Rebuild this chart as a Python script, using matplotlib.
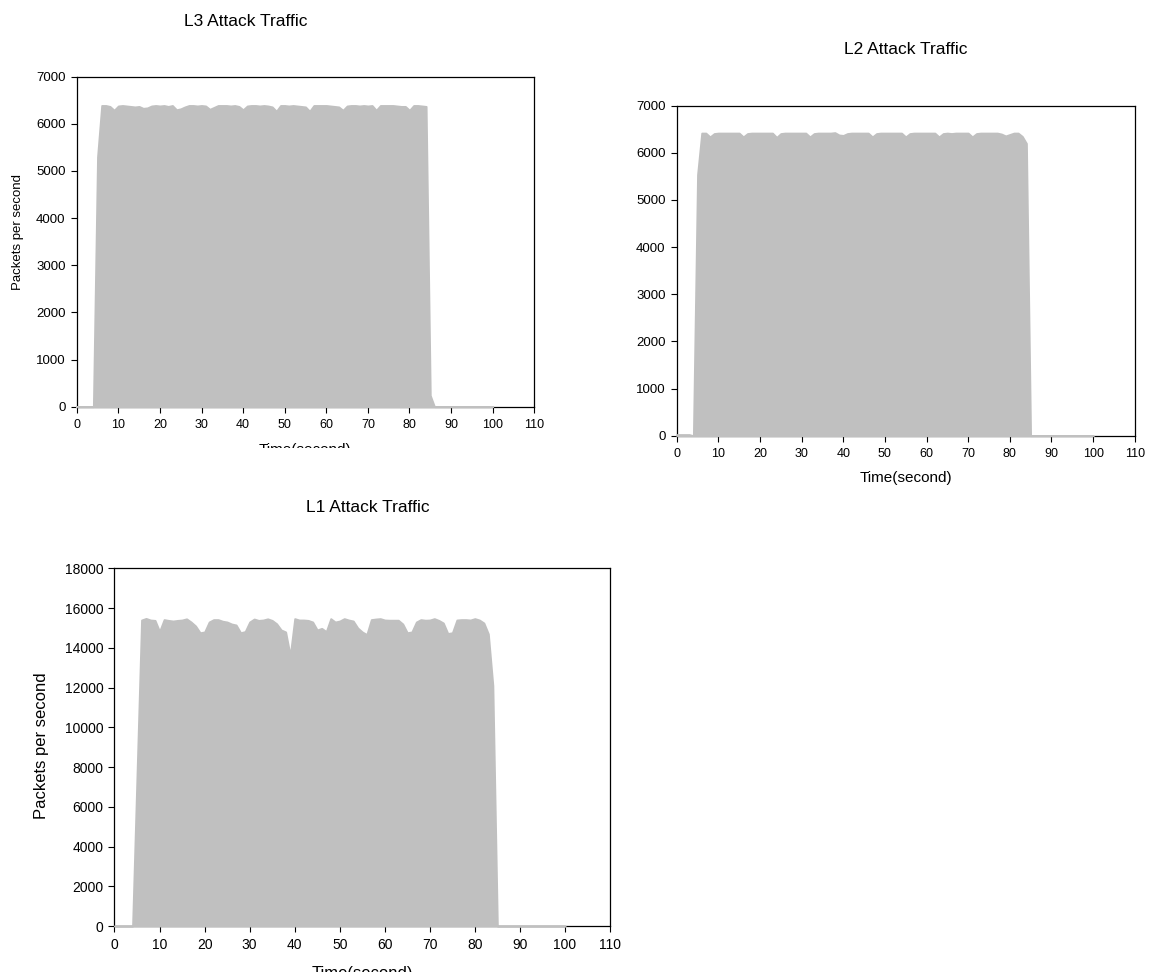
import matplotlib
matplotlib.use("Agg")
import matplotlib.pyplot as plt
from matplotlib.transforms import Bbox, TransformedBbox

plt.rcParams['font.family'] = ['Liberation Sans', 'DejaVu Sans']

W, H = 1149, 972

# ---- data (time in seconds, packets per second) ----
time_s = list(range(0, 101))

l3_pps = [0, 0, 0, 0, 0, 5300, 6390, 6390, 6370, 6290,
          6380, 6390, 6380, 6370, 6360, 6370, 6330, 6340, 6380, 6390,
          6380, 6390, 6370, 6390, 6300, 6320, 6360, 6390, 6390, 6380,
          6390, 6380, 6310, 6350, 6390, 6390, 6390, 6380, 6390, 6370,
          6300, 6380, 6390, 6390, 6380, 6390, 6380, 6360, 6270, 6390,
          6390, 6380, 6390, 6380, 6370, 6360, 6270, 6390, 6390, 6390,
          6390, 6380, 6370, 6360, 6290, 6380, 6390, 6390, 6380, 6390,
          6380, 6390, 6290, 6390, 6390, 6390, 6390, 6380, 6370, 6370,
          6290, 6390, 6390, 6380, 6370, 240, 0, 0, 0, 0,
          0, 0, 0, 0, 0, 0, 0, 0, 0, 0,
          0]

l2_pps = [25, 25, 25, 25, 0, 5540, 6420, 6420, 6340, 6410,
          6420, 6420, 6420, 6420, 6420, 6420, 6340, 6410, 6420, 6420,
          6420, 6420, 6420, 6420, 6330, 6410, 6420, 6420, 6420, 6420,
          6420, 6420, 6340, 6410, 6420, 6420, 6420, 6420, 6430, 6380,
          6370, 6410, 6420, 6420, 6420, 6420, 6420, 6340, 6410, 6420,
          6420, 6420, 6420, 6420, 6420, 6340, 6410, 6420, 6420, 6420,
          6420, 6420, 6420, 6340, 6410, 6420, 6410, 6420, 6420, 6420,
          6420, 6340, 6410, 6420, 6420, 6420, 6420, 6420, 6400, 6360,
          6390, 6420, 6420, 6350, 6200, 0, 0, 0, 0, 0,
          0, 0, 0, 0, 0, 0, 0, 0, 0, 0,
          0]

l1_pps = [0, 0, 0, 0, 0, 7700, 15400, 15480, 15400, 15380,
          14830, 15420, 15380, 15350, 15380, 15400, 15460, 15300, 15100, 14760,
          14800, 15300, 15420, 15420, 15340, 15300, 15200, 15150, 14760, 14820,
          15300, 15450, 15380, 15400, 15460, 15380, 15210, 14900, 14800, 13620,
          15470, 15400, 15400, 15380, 15300, 14900, 14980, 14820, 15470, 15300,
          15350, 15470, 15400, 15350, 15000, 14800, 14670, 15420, 15450, 15470,
          15400, 15390, 15390, 15390, 15200, 14760, 14800, 15300, 15420, 15390,
          15400, 15470, 15380, 15250, 14720, 14760, 15400, 15420, 15420, 15400,
          15470, 15400, 15250, 14700, 12100, 0, 0, 0, 0, 0,
          0, 0, 0, 0, 0, 0, 0, 0, 0, 0,
          0]

x_ticks = list(range(0, 111, 10))
small_y_ticks = list(range(0, 7001, 1000))
big_y_ticks = list(range(0, 18001, 2000))

titles = ["L3 Attack Traffic", "L2 Attack Traffic", "L1 Attack Traffic"]
ylabel_text = "Packets per second"
xlabel_text = "Time(second)"

fill_color = '#c0c0c0'

fig = plt.figure(figsize=(W / 100, H / 100), dpi=100)


def px_axes(left, top, right, bottom):
    return fig.add_axes([left / W, (H - bottom) / H, (right - left) / W, (bottom - top) / H])


def style(ax, yticks, ymax, xfs, yfs):
    ax.set_xlim(0, 110)
    ax.set_ylim(0, ymax)
    ax.set_xticks(x_ticks)
    ax.set_yticks(yticks)
    ax.tick_params(direction='out', length=4, width=0.8, colors='black')
    ax.tick_params(axis='x', labelsize=xfs, pad=4.5)
    ax.tick_params(axis='y', labelsize=yfs, pad=4)
    for s in ax.spines.values():
        s.set_linewidth(0.9)
        s.set_color('black')


def draw(ax, y):
    ax.fill_between(time_s, y, 0, facecolor=fill_color, edgecolor=fill_color,
                    linewidth=1.3, zorder=3, clip_on=False)


# L3
ax3 = px_axes(76.7, 76.7, 534.3, 406.7)
draw(ax3, l3_pps)
style(ax3, small_y_ticks, 7000, 9, 9.5)

# L2
ax2 = px_axes(676.7, 105.7, 1134.7, 435.7)
draw(ax2, l2_pps)
style(ax2, small_y_ticks, 7000, 9, 9.5)

# L1
ax1 = px_axes(114.5, 568.3, 610, 926)
draw(ax1, l1_pps)
style(ax1, big_y_ticks, 18000, 10, 10)


def ftext(x, y, s, **kw):
    return fig.text(x / W, (H - y) / H, s, ha='center', va='center', **kw)


# titles
ftext(246, 21.5, titles[0], fontsize=12.5)
ftext(906, 50, titles[1], fontsize=12.5)
ftext(368, 508, titles[2], fontsize=12.5)

# y labels
ftext(18.3, 232.5, ylabel_text, fontsize=9.5, rotation=90)
ftext(42, 746, ylabel_text, fontsize=12, rotation=90)

# x labels
ftext(906, 478, xlabel_text, fontsize=11)
t3 = ftext(305, 450, xlabel_text, fontsize=11)
clip = TransformedBbox(Bbox([[0, (H - 448) / H], [1, 1]]), fig.transFigure)
t3.set_clip_box(clip)
t3.set_clip_on(True)
ftext(362, 973, xlabel_text, fontsize=12)

fig.savefig('out.png', dpi=100)
